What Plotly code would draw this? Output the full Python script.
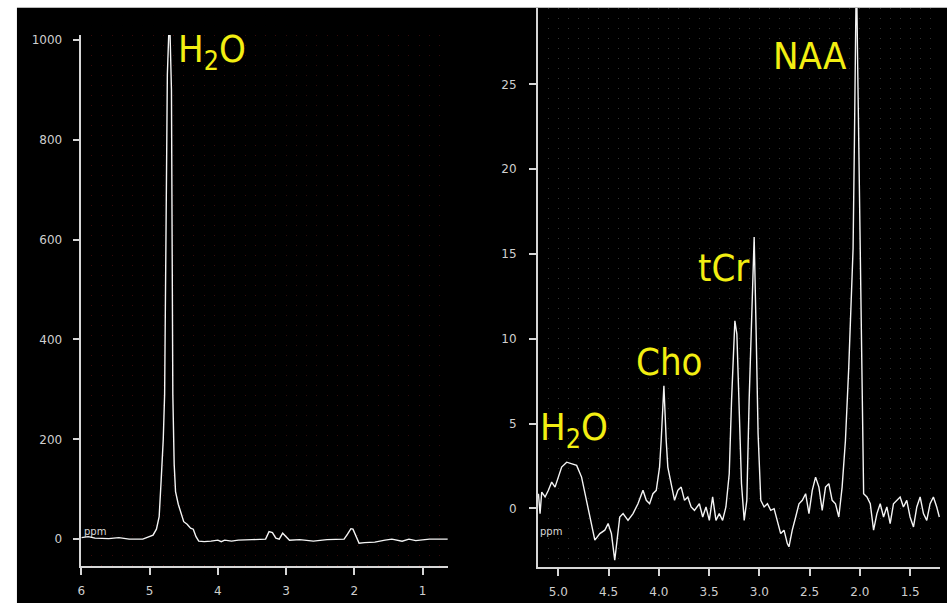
import plotly.graph_objects as go

# ---------------- data ----------------
# Left panel: full spectrum (ppm vs intensity)
left_ppm = [6.0, 5.9, 5.8, 5.6, 5.45, 5.3, 5.1, 5.02, 4.95, 4.9, 4.86, 4.83, 4.80, 4.78,
            4.76, 4.74, 4.72, 4.70, 4.68, 4.67, 4.66, 4.64, 4.62, 4.58, 4.54, 4.50, 4.45,
            4.40, 4.36, 4.32, 4.28, 4.2, 4.1, 4.0, 3.95, 3.9, 3.8, 3.7, 3.5, 3.3, 3.25,
            3.2, 3.15, 3.1, 3.05, 3.0, 2.95, 2.8, 2.6, 2.4, 2.15, 2.1, 2.05, 2.02, 1.97,
            1.93, 1.85, 1.7, 1.55, 1.45, 1.3, 1.2, 1.1, 0.9, 0.63]
left_val = [3, 5, 2, 1, 3, 0, 0, 4, 8, 20, 45, 120, 200, 290,
            640, 930, 1010, 1010, 900, 700, 290, 150, 95, 70, 50, 35, 30,
            22, 20, 5, -4, -5, -4, -2, -5, -2, -4, -2, -1, 0, 15,
            13, 2, 0, 12, 4, -2, -1, -4, -1, 0, 10, 21, 20, 5,
            -8, -7, -6, -2, 0, -4, 0, -3, 0, 0]

# Right panel: zoomed spectrum
right_ppm = [5.198, 5.182, 5.165, 5.132, 5.099, 5.066, 5.033, 5.000, 4.967, 4.917, 4.868,
             4.818, 4.769, 4.719, 4.670, 4.637, 4.587, 4.538, 4.505, 4.472, 4.439, 4.422,
             4.389, 4.356, 4.307, 4.257, 4.208, 4.158, 4.125, 4.092, 4.059, 4.026, 3.993,
             3.977, 3.950, 3.927, 3.911, 3.878, 3.844, 3.811, 3.778, 3.745, 3.712, 3.679,
             3.646, 3.597, 3.564, 3.531, 3.498, 3.465, 3.432, 3.399, 3.366, 3.333, 3.300,
             3.277, 3.244, 3.224, 3.201, 3.178, 3.151, 3.125, 3.102, 3.079, 3.052, 3.032,
             3.013, 2.986, 2.953, 2.920, 2.887, 2.854, 2.821, 2.788, 2.755, 2.722, 2.706,
             2.673, 2.639, 2.606, 2.573, 2.540, 2.507, 2.474, 2.441, 2.408, 2.375, 2.342,
             2.309, 2.276, 2.243, 2.210, 2.177, 2.144, 2.111, 2.088, 2.068, 2.055, 2.042,
             2.035, 2.022, 2.009, 1.996, 1.979, 1.963, 1.930, 1.897, 1.864, 1.831, 1.798,
             1.765, 1.732, 1.699, 1.666, 1.633, 1.600, 1.567, 1.534, 1.501, 1.467, 1.434,
             1.401, 1.368, 1.335, 1.302, 1.269, 1.236, 1.210]
right_val = [0.86, -0.31, 0.96, 0.67, 1.06, 1.55, 1.25, 1.84, 2.43, 2.72, 2.63,
             2.53, 1.84, 0.47, -0.90, -1.88, -1.49, -1.29, -0.90, -1.49, -3.06, -2.27,
             -0.51, -0.31, -0.71, -0.31, 0.27, 1.06, 0.47, 0.27, 0.86, 1.06, 2.43,
             4.00, 7.23, 4.00, 2.43, 1.45, 0.47, 1.06, 1.25, 0.47, 0.67, 0.08,
             -0.12, 0.27, -0.51, 0.08, -0.71, 0.67, -0.71, -0.31, -0.71, 0.08, 2.04,
             6.35, 11.05, 10.27, 6.35, 1.45, -0.71, 0.47, 6.35, 11.25, 16.0, 10.27,
             4.39, 0.47, 0.08, 0.27, -0.12, -0.02, -0.71, -1.49, -1.29, -2.08, -2.27,
             -1.29, -0.51, 0.27, 0.47, 0.86, -0.31, 1.06, 1.84, 1.25, -0.12, 1.25,
             1.45, 0.47, 0.27, -0.51, 1.25, 4.00, 8.31, 12.2, 15.3, 21.5, 27.0,
             32.0, 26.0, 21.0, 15.0, 8.5, 0.86, 0.67, 0.27, -1.29, -0.31, 0.27,
             -0.51, 0.08, -0.90, 0.27, 0.47, 0.67, 0.08, 0.47, -0.51, -1.10, 0.08,
             0.67, -0.31, -0.71, 0.27, 0.67, 0.08, -0.51]

left_xticks = [6, 5, 4, 3, 2, 1]
left_yticks = [0, 200, 400, 600, 800, 1000]
right_xticks = [5.0, 4.5, 4.0, 3.5, 3.0, 2.5, 2.0, 1.5]
right_yticks = [0, 5, 10, 15, 20, 25]

peak_labels = ["H<sub>2</sub>O", "NAA", "tCr", "Cho", "H<sub>2</sub>O"]

W, H = 947, 603
YEL = "#f2ee12"
AX = "#d6d6d6"
TICKFONT = dict(family="DejaVu Sans", size=12, color="#cfcfcf")
LABFONT = "DejaVu Sans Condensed, Liberation Sans Narrow, Liberation Sans, sans-serif"

fig = go.Figure()
fig.add_trace(go.Scatter(x=left_ppm, y=left_val, mode="lines",
                         line=dict(color="#f4f4f4", width=1.4), xaxis="x", yaxis="y",
                         showlegend=False, hoverinfo="skip"))
fig.add_trace(go.Scatter(x=right_ppm, y=right_val, mode="lines",
                         line=dict(color="#f4f4f4", width=1.4), xaxis="x2", yaxis="y2",
                         showlegend=False, hoverinfo="skip"))


def px(xp):
    return xp / W


def py(yp):
    return 1 - yp / H


common = dict(showline=True, linecolor=AX, linewidth=1.5, ticks="outside", tickcolor=AX,
              ticklen=7, tickwidth=1.5, tickfont=TICKFONT, zeroline=False, showgrid=False,
              mirror=False)

fig.update_layout(
    width=W, height=H, autosize=False,
    margin=dict(l=0, r=0, t=0, b=0),
    paper_bgcolor="white", plot_bgcolor="rgba(0,0,0,0)",
    xaxis=dict(domain=[px(77.7), px(445.7)], range=[6.0, 0.63], anchor="y",
               tickvals=left_xticks, ticktext=[str(v) for v in left_xticks],
               ticklabelstandoff=6,
               minor=dict(dtick=0.15, tick0=6, showgrid=True, gridcolor="#3a0808",
                          griddash="1px,9px", ticklen=0), **common),
    yaxis=dict(domain=[py(566), py(33)], range=[-54, 1010], anchor="x",
               tickvals=left_yticks, ticklabelstandoff=8, **common),
    xaxis2=dict(domain=[px(536), px(940)], range=[5.205, 1.203], anchor="y2",
                tickvals=right_xticks, ticktext=[f"{v:.1f}" for v in right_xticks],
                ticklabelstandoff=6,
                minor=dict(dtick=0.1, tick0=5.0, showgrid=True, gridcolor="#333333",
                           griddash="1px,9px", ticklen=0), **common),
    yaxis2=dict(domain=[py(566.7), py(6)], range=[-3.45, 29.5], anchor="x2",
                tickvals=right_yticks, ticklabelstandoff=10, **common),
)

# black panel background
fig.add_shape(type="rect", xref="paper", yref="paper", x0=px(13), x1=1, y0=0, y1=py(6),
              fillcolor="black", line=dict(width=0), layer="below")
fig.add_shape(type="line", xref="paper", yref="paper", x0=px(13), x1=1, y0=py(5.5), y1=py(5.5),
              line=dict(color="#b8b8b8", width=1), layer="below")

# label positions (pixel centres of capital letters)
label_pos = [(209, 50), (809, 54), (723, 267), (668, 361), (572, 429)]
for text, (lx, ly) in zip(peak_labels, label_pos):
    fig.add_annotation(text=text, x=px(lx), y=py(ly), xref="paper", yref="paper",
                       showarrow=False, xanchor="center", yanchor="middle",
                       font=dict(family=LABFONT, size=38, color=YEL))

for lx, ly in [(91, 531), (549, 531)]:
    fig.add_annotation(text="ppm", x=px(lx), y=py(ly), xref="paper", yref="paper",
                       showarrow=False, xanchor="center", yanchor="middle",
                       font=dict(family="DejaVu Sans", size=10, color="#d8d8d8"))

fig.write_html("out.html")
